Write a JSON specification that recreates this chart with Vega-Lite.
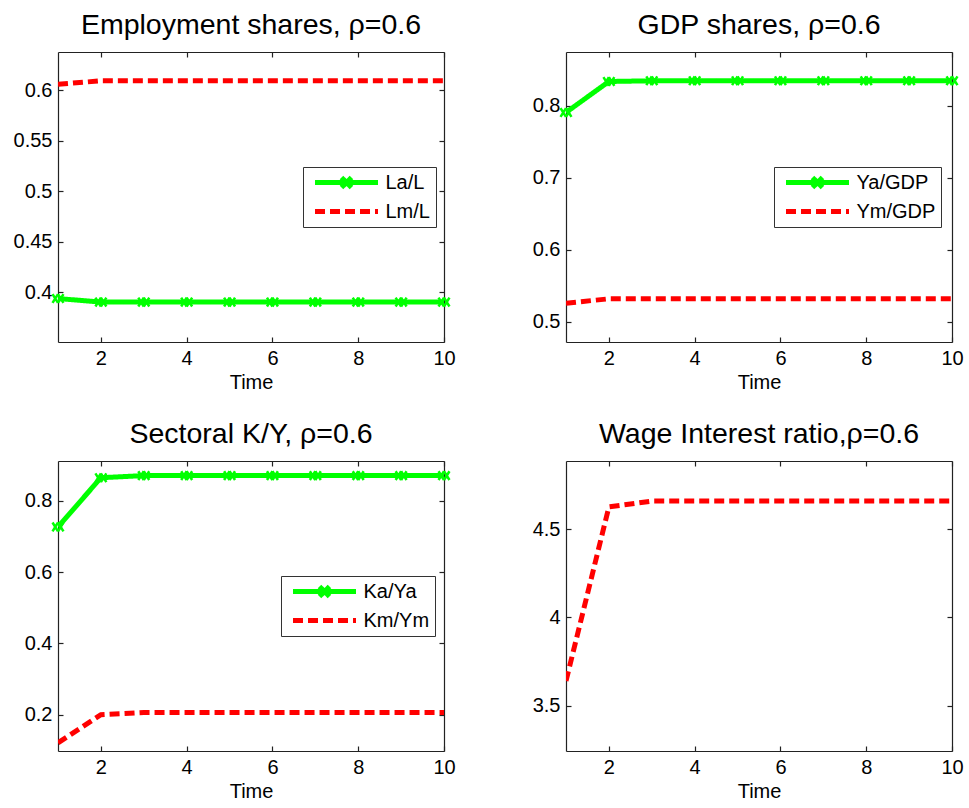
{
  "$schema": "https://vega.github.io/schema/vega-lite/v6.json",
  "background": "white",
  "padding": {"left": 13, "top": 10, "right": 5, "bottom": 5},
  "bounds": "flush",
  "columns": 2,
  "spacing": {"row": 119, "column": 122},
  "config": {
    "font": "Liberation Sans",
    "view": {"stroke": null},
    "axis": {"domainColor": "#222", "tickColor": "#222", "tickSize": -5, "labelFontSize": 20, "labelColor": "#000", "titleFontSize": 20, "titleColor": "#000", "titleFontWeight": "normal", "grid": false, "domainWidth": 1.2, "tickWidth": 1.2, "labelPadding": 11, "titlePadding": 4},
    "title": {"fontSize": 28.5, "fontWeight": "normal", "color": "#000", "offset": 12},
    "legend": {"labelFontSize": 20, "labelColor": "#000", "strokeColor": "#333", "fillColor": "white", "padding": 5.5, "symbolSize": 16, "symbolStrokeWidth": 5, "labelOffset": 57, "rowPadding": 4, "title": null}
  },
  "resolve": {"scale": {"color": "independent", "strokeDash": "independent"}},
  "concat": [
    {
      "width": 386, "height": 290,
      "title": "Employment shares, ρ=0.6",
      "data": {"values": [
        {"t": 1, "v": 0.394, "s": "La/L"}, {"t": 2, "v": 0.3905, "s": "La/L"}, {"t": 3, "v": 0.3905, "s": "La/L"}, {"t": 4, "v": 0.3905, "s": "La/L"}, {"t": 5, "v": 0.3905, "s": "La/L"}, {"t": 6, "v": 0.3905, "s": "La/L"}, {"t": 7, "v": 0.3905, "s": "La/L"}, {"t": 8, "v": 0.3905, "s": "La/L"}, {"t": 9, "v": 0.3905, "s": "La/L"}, {"t": 10, "v": 0.3905, "s": "La/L"},
        {"t": 1, "v": 0.606, "s": "Lm/L"}, {"t": 2, "v": 0.6095, "s": "Lm/L"}, {"t": 3, "v": 0.6095, "s": "Lm/L"}, {"t": 4, "v": 0.6095, "s": "Lm/L"}, {"t": 5, "v": 0.6095, "s": "Lm/L"}, {"t": 6, "v": 0.6095, "s": "Lm/L"}, {"t": 7, "v": 0.6095, "s": "Lm/L"}, {"t": 8, "v": 0.6095, "s": "Lm/L"}, {"t": 9, "v": 0.6095, "s": "Lm/L"}, {"t": 10, "v": 0.6095, "s": "Lm/L"}
      ]},
      "layer": [
        {
          "mark": {"type": "line", "strokeWidth": 5, "clip": true},
          "encoding": {
            "x": {"field": "t", "type": "quantitative", "scale": {"domain": [1, 10], "nice": false, "zero": false}, "axis": {"orient": "bottom", "values": [2, 4, 6, 8, 10], "title": "Time", "labelFlush": false}},
            "y": {"field": "v", "type": "quantitative", "scale": {"domain": [0.351, 0.638], "nice": false, "zero": false}, "axis": {"orient": "left", "values": [0.4, 0.45, 0.5, 0.55, 0.6], "format": "~g", "title": null}},
            "color": {"field": "s", "type": "nominal", "scale": {"domain": ["La/L", "Lm/L"], "range": ["#00ff00", "#ff0000"]},
              "legend": {"orient": "none", "legendX": 245, "legendY": 115, "title": null, "encode": {"symbols": {"update": {"shape": {"signal": "datum.value === 'La/L' ? 'M-1.75,0L29.75,0M11.5,-2.5L16.5,2.5M11.5,2.5L16.5,-2.5' : 'M-1.75,0L29.75,0'"}, "fill": {"value": "transparent"}}}}}},
            "strokeDash": {"field": "s", "type": "nominal", "scale": {"domain": ["La/L", "Lm/L"], "range": [[1, 0], [10, 5]]},
              "legend": {"orient": "none", "legendX": 245, "legendY": 115, "title": null, "encode": {"symbols": {"update": {"shape": {"signal": "datum.value === 'La/L' ? 'M-1.75,0L29.75,0M11.5,-2.5L16.5,2.5M11.5,2.5L16.5,-2.5' : 'M-1.75,0L29.75,0'"}, "fill": {"value": "transparent"}}}}}}
          }
        },
        {
          "transform": [{"filter": "datum.s === 'La/L'"}],
          "mark": {"type": "point", "shape": "M-1,-0.8L0,0.8M-1,0.8L0,-0.8M0,-0.8L1,0.8M0,0.8L1,-0.8", "filled": false, "stroke": "#00ff00", "strokeWidth": 2.5, "size": 120, "opacity": 1, "clip": false},
          "encoding": {
            "x": {"field": "t", "type": "quantitative", "scale": {"domain": [1, 10], "nice": false, "zero": false}, "axis": {"orient": "top", "values": [2, 4, 6, 8, 10], "labels": false, "title": null}},
            "y": {"field": "v", "type": "quantitative", "scale": {"domain": [0.351, 0.638], "nice": false, "zero": false}, "axis": {"orient": "right", "values": [0.4, 0.45, 0.5, 0.55, 0.6], "labels": false, "title": null}}
          }
        }
      ],
      "resolve": {"axis": {"x": "independent", "y": "independent"}}
    },
    {
      "width": 386, "height": 290,
      "title": "GDP shares, ρ=0.6",
      "data": {"values": [
        {"t": 1, "v": 0.791, "s": "Ya/GDP"}, {"t": 2, "v": 0.834, "s": "Ya/GDP"}, {"t": 3, "v": 0.835, "s": "Ya/GDP"}, {"t": 4, "v": 0.835, "s": "Ya/GDP"}, {"t": 5, "v": 0.835, "s": "Ya/GDP"}, {"t": 6, "v": 0.835, "s": "Ya/GDP"}, {"t": 7, "v": 0.835, "s": "Ya/GDP"}, {"t": 8, "v": 0.835, "s": "Ya/GDP"}, {"t": 9, "v": 0.835, "s": "Ya/GDP"}, {"t": 10, "v": 0.835, "s": "Ya/GDP"},
        {"t": 1, "v": 0.526, "s": "Ym/GDP"}, {"t": 2, "v": 0.532, "s": "Ym/GDP"}, {"t": 3, "v": 0.532, "s": "Ym/GDP"}, {"t": 4, "v": 0.532, "s": "Ym/GDP"}, {"t": 5, "v": 0.532, "s": "Ym/GDP"}, {"t": 6, "v": 0.532, "s": "Ym/GDP"}, {"t": 7, "v": 0.532, "s": "Ym/GDP"}, {"t": 8, "v": 0.532, "s": "Ym/GDP"}, {"t": 9, "v": 0.532, "s": "Ym/GDP"}, {"t": 10, "v": 0.532, "s": "Ym/GDP"}
      ]},
      "layer": [
        {
          "mark": {"type": "line", "strokeWidth": 5, "clip": true},
          "encoding": {
            "x": {"field": "t", "type": "quantitative", "scale": {"domain": [1, 10], "nice": false, "zero": false}, "axis": {"orient": "bottom", "values": [2, 4, 6, 8, 10], "title": "Time", "labelFlush": false}},
            "y": {"field": "v", "type": "quantitative", "scale": {"domain": [0.472, 0.875], "nice": false, "zero": false}, "axis": {"orient": "left", "values": [0.5, 0.6, 0.7, 0.8], "format": "~g", "title": null}},
            "color": {"field": "s", "type": "nominal", "scale": {"domain": ["Ya/GDP", "Ym/GDP"], "range": ["#00ff00", "#ff0000"]},
              "legend": {"orient": "none", "legendX": 208, "legendY": 115, "title": null, "encode": {"symbols": {"update": {"shape": {"signal": "datum.value === 'Ya/GDP' ? 'M-1.75,0L29.75,0M11.5,-2.5L16.5,2.5M11.5,2.5L16.5,-2.5' : 'M-1.75,0L29.75,0'"}, "fill": {"value": "transparent"}}}}}},
            "strokeDash": {"field": "s", "type": "nominal", "scale": {"domain": ["Ya/GDP", "Ym/GDP"], "range": [[1, 0], [10, 5]]},
              "legend": {"orient": "none", "legendX": 208, "legendY": 115, "title": null, "encode": {"symbols": {"update": {"shape": {"signal": "datum.value === 'Ya/GDP' ? 'M-1.75,0L29.75,0M11.5,-2.5L16.5,2.5M11.5,2.5L16.5,-2.5' : 'M-1.75,0L29.75,0'"}, "fill": {"value": "transparent"}}}}}}
          }
        },
        {
          "transform": [{"filter": "datum.s === 'Ya/GDP'"}],
          "mark": {"type": "point", "shape": "M-1,-0.8L0,0.8M-1,0.8L0,-0.8M0,-0.8L1,0.8M0,0.8L1,-0.8", "filled": false, "stroke": "#00ff00", "strokeWidth": 2.5, "size": 120, "opacity": 1, "clip": false},
          "encoding": {
            "x": {"field": "t", "type": "quantitative", "scale": {"domain": [1, 10], "nice": false, "zero": false}, "axis": {"orient": "top", "values": [2, 4, 6, 8, 10], "labels": false, "title": null}},
            "y": {"field": "v", "type": "quantitative", "scale": {"domain": [0.472, 0.875], "nice": false, "zero": false}, "axis": {"orient": "right", "values": [0.5, 0.6, 0.7, 0.8], "labels": false, "title": null}}
          }
        }
      ],
      "resolve": {"axis": {"x": "independent", "y": "independent"}}
    },
    {
      "width": 386, "height": 290,
      "title": "Sectoral K/Y, ρ=0.6",
      "data": {"values": [
        {"t": 1, "v": 0.727, "s": "Ka/Ya"}, {"t": 2, "v": 0.865, "s": "Ka/Ya"}, {"t": 3, "v": 0.871, "s": "Ka/Ya"}, {"t": 4, "v": 0.871, "s": "Ka/Ya"}, {"t": 5, "v": 0.871, "s": "Ka/Ya"}, {"t": 6, "v": 0.871, "s": "Ka/Ya"}, {"t": 7, "v": 0.871, "s": "Ka/Ya"}, {"t": 8, "v": 0.871, "s": "Ka/Ya"}, {"t": 9, "v": 0.871, "s": "Ka/Ya"}, {"t": 10, "v": 0.871, "s": "Ka/Ya"},
        {"t": 1, "v": 0.121, "s": "Km/Ym"}, {"t": 2, "v": 0.2, "s": "Km/Ym"}, {"t": 3, "v": 0.206, "s": "Km/Ym"}, {"t": 4, "v": 0.206, "s": "Km/Ym"}, {"t": 5, "v": 0.206, "s": "Km/Ym"}, {"t": 6, "v": 0.206, "s": "Km/Ym"}, {"t": 7, "v": 0.206, "s": "Km/Ym"}, {"t": 8, "v": 0.206, "s": "Km/Ym"}, {"t": 9, "v": 0.206, "s": "Km/Ym"}, {"t": 10, "v": 0.206, "s": "Km/Ym"}
      ]},
      "layer": [
        {
          "mark": {"type": "line", "strokeWidth": 5, "clip": true},
          "encoding": {
            "x": {"field": "t", "type": "quantitative", "scale": {"domain": [1, 10], "nice": false, "zero": false}, "axis": {"orient": "bottom", "values": [2, 4, 6, 8, 10], "title": "Time", "labelFlush": false}},
            "y": {"field": "v", "type": "quantitative", "scale": {"domain": [0.098, 0.912], "nice": false, "zero": false}, "axis": {"orient": "left", "values": [0.2, 0.4, 0.6, 0.8], "format": "~g", "title": null}},
            "color": {"field": "s", "type": "nominal", "scale": {"domain": ["Ka/Ya", "Km/Ym"], "range": ["#00ff00", "#ff0000"]},
              "legend": {"orient": "none", "legendX": 223, "legendY": 115, "title": null, "encode": {"symbols": {"update": {"shape": {"signal": "datum.value === 'Ka/Ya' ? 'M-1.75,0L29.75,0M11.5,-2.5L16.5,2.5M11.5,2.5L16.5,-2.5' : 'M-1.75,0L29.75,0'"}, "fill": {"value": "transparent"}}}}}},
            "strokeDash": {"field": "s", "type": "nominal", "scale": {"domain": ["Ka/Ya", "Km/Ym"], "range": [[1, 0], [10, 5]]},
              "legend": {"orient": "none", "legendX": 223, "legendY": 115, "title": null, "encode": {"symbols": {"update": {"shape": {"signal": "datum.value === 'Ka/Ya' ? 'M-1.75,0L29.75,0M11.5,-2.5L16.5,2.5M11.5,2.5L16.5,-2.5' : 'M-1.75,0L29.75,0'"}, "fill": {"value": "transparent"}}}}}}
          }
        },
        {
          "transform": [{"filter": "datum.s === 'Ka/Ya'"}],
          "mark": {"type": "point", "shape": "M-1,-0.8L0,0.8M-1,0.8L0,-0.8M0,-0.8L1,0.8M0,0.8L1,-0.8", "filled": false, "stroke": "#00ff00", "strokeWidth": 2.5, "size": 120, "opacity": 1, "clip": false},
          "encoding": {
            "x": {"field": "t", "type": "quantitative", "scale": {"domain": [1, 10], "nice": false, "zero": false}, "axis": {"orient": "top", "values": [2, 4, 6, 8, 10], "labels": false, "title": null}},
            "y": {"field": "v", "type": "quantitative", "scale": {"domain": [0.098, 0.912], "nice": false, "zero": false}, "axis": {"orient": "right", "values": [0.2, 0.4, 0.6, 0.8], "labels": false, "title": null}}
          }
        }
      ],
      "resolve": {"axis": {"x": "independent", "y": "independent"}}
    },
    {
      "width": 386, "height": 290,
      "title": "Wage Interest ratio,ρ=0.6",
      "data": {"values": [
        {"t": 1, "v": 3.64}, {"t": 2, "v": 4.625}, {"t": 3, "v": 4.658}, {"t": 4, "v": 4.658}, {"t": 5, "v": 4.658}, {"t": 6, "v": 4.658}, {"t": 7, "v": 4.658}, {"t": 8, "v": 4.658}, {"t": 9, "v": 4.658}, {"t": 10, "v": 4.658}
      ]},
      "layer": [
        {
          "mark": {"type": "line", "strokeWidth": 5, "color": "#ff0000", "strokeDash": [10, 5], "clip": true},
          "encoding": {
            "x": {"field": "t", "type": "quantitative", "scale": {"domain": [1, 10], "nice": false, "zero": false}, "axis": {"orient": "bottom", "values": [2, 4, 6, 8, 10], "title": "Time", "labelFlush": false}},
            "y": {"field": "v", "type": "quantitative", "scale": {"domain": [3.244, 4.885], "nice": false, "zero": false}, "axis": {"orient": "left", "values": [3.5, 4, 4.5], "format": "~g", "title": null}}
          }
        },
        {
          "mark": {"type": "point", "opacity": 0},
          "encoding": {
            "x": {"field": "t", "type": "quantitative", "scale": {"domain": [1, 10], "nice": false, "zero": false}, "axis": {"orient": "top", "values": [2, 4, 6, 8, 10], "labels": false, "title": null}},
            "y": {"field": "v", "type": "quantitative", "scale": {"domain": [3.244, 4.885], "nice": false, "zero": false}, "axis": {"orient": "right", "values": [3.5, 4, 4.5], "labels": false, "title": null}}
          }
        }
      ],
      "resolve": {"axis": {"x": "independent", "y": "independent"}}
    }
  ]
}
